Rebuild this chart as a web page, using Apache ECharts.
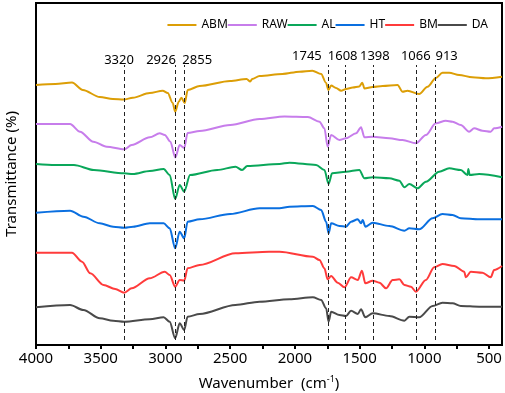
<!DOCTYPE html>
<html>
<head>
<meta charset="utf-8">
<script src="https://cdn.jsdelivr.net/npm/echarts@6/dist/echarts.min.js"></script>
<style>
html,body{margin:0;padding:0;background:#fff;}
#chart{width:505px;height:393px;}
</style>
</head>
<body>
<div id="chart"></div>
<script>
// wavenumber (cm-1), offset transmittance (a.u.)
var abm = [[4000,260],[3850,261],[3722,262.5],[3638,255],[3507,248],[3406,246],[3321,245.5],[3252,247.3],[3121,252],[3021,254.3],[2982,252],[2944,242],[2925,233.3],[2897,243.3],[2877,247.3],[2851,242],[2828,255],[2736,259],[2500,264],[2373,266],[2345,263.5],[2330,266],[2273,269],[2096,271],[1965,273.3],[1865,274.3],[1797,271],[1759,262],[1741,255],[1720,259.5],[1682,257],[1643,254.3],[1605,256],[1553,257.5],[1502,258.5],[1479,262.3],[1463,256.5],[1399,258],[1322,259],[1207,260],[1168,253.3],[1130,254.3],[1040,251],[975,258.3],[911,267],[860,272.3],[808,272.3],[731,270],[629,267.7],[525,266.7],[400,268.3]];
var raw = [[4000,221],[3737,221],[3660,213.3],[3557,203.3],[3454,198.3],[3318,195.7],[3261,200],[3121,207.7],[3044,211.7],[3005,210],[2962,203.3],[2924,187.5],[2890,200],[2855,197],[2829,212],[2736,214],[2500,220],[2273,226],[2080,228.5],[1900,228],[1810,223.3],[1772,216.7],[1747,198.3],[1720,210],[1656,205],[1605,206.7],[1527,211.7],[1489,217.7],[1463,207.7],[1399,208.3],[1270,206.7],[1168,205],[1065,201.7],[988,210],[911,221.7],[834,224.3],[782,223.3],[718,220],[654,213.3],[615,216.7],[551,214.3],[487,213.3],[461,216.7],[400,218.3]];
var al = [[4000,181],[3850,180],[3707,180],[3553,175],[3318,171.7],[3252,171],[3121,174],[3014,176],[2967,170],[2925,146],[2890,160],[2855,153.3],[2810,170],[2600,175],[2459,178.3],[2408,175],[2368,179],[2119,181],[2042,182.3],[1836,180],[1772,175],[1739,161],[1713,171.7],[1605,173.3],[1502,175],[1463,166.7],[1399,167.7],[1270,166.7],[1193,164.3],[1154,157.7],[1116,161],[1052,156.7],[988,163.3],[885,173.3],[808,176.7],[718,175],[667,170],[660,176],[650,170],[577,171],[400,167.7]];
var ht = [[4000,132.3],[3737,134.3],[3634,128.3],[3507,121.7],[3404,118.3],[3318,117.3],[3250,118.3],[3121,121.7],[3014,121.7],[2967,116.7],[2925,96.7],[2890,113.3],[2855,106.7],[2829,123.3],[2736,125.7],[2500,131],[2273,136.7],[2119,136.7],[2042,138.3],[1861,139],[1797,135],[1759,123.3],[1739,111.7],[1720,121.7],[1656,119],[1605,118.3],[1566,123.3],[1514,125.7],[1489,121.7],[1476,125],[1456,118.3],[1399,122.3],[1270,119],[1154,114.3],[1116,116.7],[1040,115.7],[936,126.7],[860,131],[782,130],[718,126.7],[577,125.7],[400,125.7]];
var bm = [[4000,92.3],[3722,92.3],[3645,83.3],[3581,71.7],[3478,60],[3388,56],[3318,52.3],[3261,56.7],[3121,66.7],[3005,73.3],[2967,70],[2925,58.3],[2890,65],[2855,64.3],[2829,76.7],[2736,80],[2459,91.7],[2200,93.3],[2119,93.3],[1861,88.3],[1810,85],[1772,76.7],[1747,65.7],[1720,69],[1669,62.3],[1617,57.7],[1566,67.7],[1514,65],[1482,74.3],[1456,61.7],[1399,64.3],[1347,62.3],[1296,56.7],[1245,65],[1193,65.7],[1154,60],[1103,58.3],[1065,53.3],[988,65],[924,77.7],[860,81],[769,79],[692,73.3],[679,67.7],[641,73.3],[551,72.3],[487,67.7],[461,75],[400,79]];
var da = [[4000,37.7],[3737,40],[3634,35],[3507,26.7],[3404,24.3],[3318,23.3],[3121,25.7],[3014,27.7],[2967,23.3],[2925,6.7],[2890,21.7],[2855,15],[2829,28.3],[2736,31],[2459,40],[2273,43.3],[2042,45.7],[1861,47.7],[1797,45],[1759,36.7],[1739,23.3],[1720,33.3],[1656,30],[1605,29],[1566,34.3],[1514,31],[1489,35.7],[1456,27.7],[1399,31.7],[1270,29],[1154,24.3],[1116,28.3],[1040,27.7],[936,39],[860,42.3],[782,41.7],[718,39],[577,38.3],[400,38.3]];

var names = ['ABM','RAW','AL','HT','BM','DA'];
var peaks = [3320, 2926, 2855, 1745, 1608, 1398, 1066, 913];
var xLabels = [4000, 3500, 3000, 2500, 2000, 1500, 1000, 500];
var xTicks = [4000,3750,3500,3250,3000,2750,2500,2250,2000,1750,1500,1250,1000,750,500];

var colors = ['#DC9E06','#C77DEB','#0AA75A','#0A6FE0','#FF3B3B','#4A4A4A'];
// label nudges for the peak labels: [horizontal shift px, raise px]
var nudge = [[-5,-2],[-14,-2],[13,-2],[-21,2],[-3,2],[2,2],[0,2],[11,2]];

var lineTop = 280, lineBottom = 5;
var markData = [];
for (var i = 0; i < peaks.length; i++) {
	var dx = nudge[i][0], up = nudge[i][1];
	markData.push([
		{coord:[peaks[i], lineBottom], label:{
			distance : up,
			padding:[0, dx < 0 ? -2*dx : 0, 0, dx > 0 ? 2*dx : 0]
		}},
		{coord:[peaks[i], lineTop]}
	]);
}

var all = [abm, raw, al, ht, bm, da];
var series = [];
for (var s = 0; s < all.length; s++) {
	var item = {
		name : names[s],
		type : 'line',
		data : all[s],
		symbol : 'none',
		smooth : 0.3,
		smoothMonotone : 'x',
		lineStyle : {width : 2, color : colors[s]},
		itemStyle : {color : colors[s]},
		z : 3
	};
	if (s == 0) {
		item.markLine = {
			silent : true,
			symbol : ['none','none'],
			animation : false,
			lineStyle : {color:'#222', width:1, type:[4,3]},
			label : {
				show : true,
				position : 'end',
				formatter : function(p){ return p.data && p.data.coord ? String(p.data.coord[0]) : String(p.value); },
				fontFamily : 'Noto Sans',
				fontSize : 13,
				color : '#000'
			},
			data : markData
		};
	}
	series.push(item);
}

var chart = echarts.init(document.getElementById('chart'));
chart.setOption({
	animation : false,
	backgroundColor : '#fff',
	color : colors,
	grid : {left:36, right:3, top:3, bottom:48, show:true, borderColor:'#000', borderWidth:2, backgroundColor:'transparent',
		outerBoundsMode:'none', containLabel:false},
	legend : {
		top : 14, right : 12,
		itemWidth : 29, itemHeight : 12, itemGap : 0,
		icon : 'path://M0,5 L29,5 L29,7 L0,7 Z',
		textStyle : {fontFamily:'Noto Sans', fontSize:12, color:'#000'},
		data : names
	},
	xAxis : {
		type : 'value',
		min : 400, max : 4000,
		inverse : true,
		name : 'Wavenumber  (cm{sup|-1})',
		nameLocation : 'middle',
		nameGap : 30,
		nameTextStyle : {fontFamily:'Noto Sans', fontSize:15, color:'#000',
			rich:{sup:{fontFamily:'Noto Sans', fontSize:9, verticalAlign:'top', padding:[0,0,8,0]}}},
		axisLine : {lineStyle:{color:'#000', width:2}},
		axisTick : {show:true, inside:false, length:4, lineStyle:{color:'#000', width:2}, customValues:xTicks},
		axisLabel : {fontFamily:'Noto Sans', fontSize:15, color:'#000', margin:6, customValues:xLabels,
			formatter : function(v){ return String(v); }},
		splitLine : {show:false}
	},
	yAxis : {
		type : 'value',
		min : 0, max : 342,
		name : 'Transmittance (%)',
		nameLocation : 'middle',
		nameGap : 17,
		nameTextStyle : {fontFamily:'Noto Sans', fontSize:15, color:'#000'},
		axisLine : {show:true, lineStyle:{color:'#000', width:2}},
		axisTick : {show:false},
		axisLabel : {show:false},
		splitLine : {show:false}
	},
	series : series
});
</script>
</body>
</html>
